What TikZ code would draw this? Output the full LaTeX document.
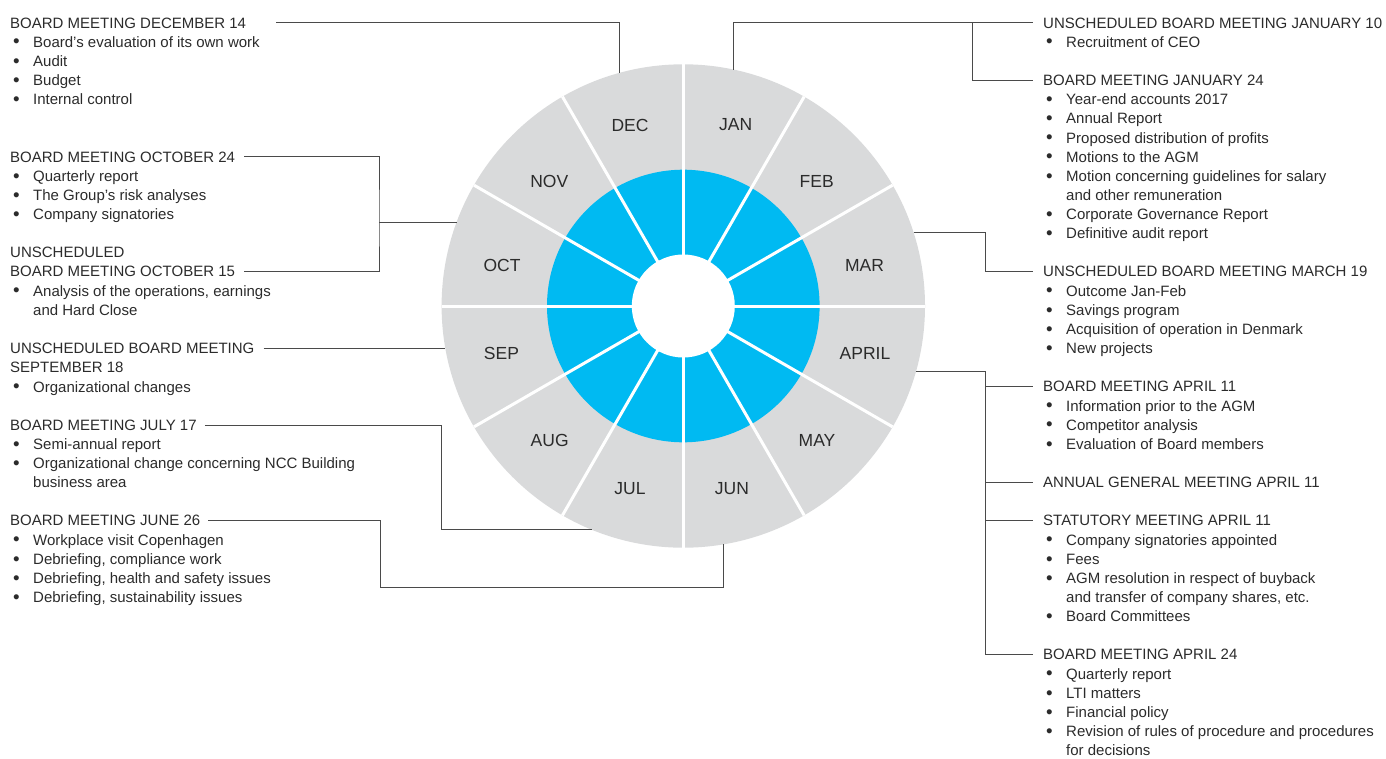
\documentclass[tikz,border=0pt]{standalone}
\usepackage{fontspec}
\usepackage{graphicx}
\setmainfont{Liberation Sans}
\usetikzlibrary{positioning,calc}
\definecolor{ringgray}{HTML}{D9DADB}
\definecolor{ringblue}{HTML}{00BAF2}
\definecolor{txt}{HTML}{2B2B2B}
\definecolor{linegray}{HTML}{4A4A4A}
\newcommand\bodyfont{\fontsize{15}{19.15}\selectfont}
\newcommand\dotmark{\raisebox{-0.6pt}{\scalebox{1.25}{\textbullet}}}
\newcommand\itm[1]{\strut\makebox[23pt][l]{\hspace{3pt}\dotmark}#1}
\newcommand\cnt[1]{\strut\hspace*{23pt}#1}
\newcommand\pln[1]{\strut#1}
\tikzset{
  head/.style={inner sep=0pt,anchor=base west,font=\bodyfont,text=txt},
  list/.style={inner sep=0pt,align=left,font=\bodyfont,text=txt},
  month/.style={font=\fontsize{17.5}{20}\selectfont,text=txt},
  link/.style={draw=linegray,line width=0.9pt},
  divider/.style={white,line width=3pt}
}
\def\pitch{19.15}

\begin{document}
\begin{tikzpicture}[x=1pt,y=1pt]
\useasboundingbox (0,0) rectangle (1386,-758);
% wheel
\coordinate (c) at (683.3,-306);
\fill[ringgray] (c) circle (241.7);
\fill[ringblue] (c) circle (136.3);
\fill[white] (c) circle (51.5);
\foreach \a in {0,30,...,150}
  \draw[divider] ($(c)+(\a:241.7)$) -- ($(c)+(\a+180:241.7)$);
\foreach \m/\dx/\dy in {JAN/52.4/181,FEB/133.4/124.3,MAR/181.2/41,APRIL/181.7/-47,
    MAY/133.7/-134,JUN/48.7/-183,JUL/-53.3/-183,AUG/-133.6/-134,SEP/-181.8/-47,
    OCT/-181.3/41,NOV/-134/124.3,DEC/-53.3/181}
  \node[month] (m\m) at ($(c)+(\dx,\dy)$) {\m};
% attach points on the rim
\foreach \n/\a in {dec/105.2,jan/78.1,mar/17.6,apr/-15.8,oct/159.7,sep/190,jul/247.9,jun/279.45}
  \coordinate (p\n) at ($(c)+(\a:241.7)$);

% left column
\node[head] (hdec) at (10,-28) {BOARD MEETING DECEMBER 14};
\node[list,below right=5.75pt and 0pt of hdec.base west] (ldec)
  {\itm{Board’s evaluation of its own work}\\\itm{Audit}\\\itm{Budget}\\\itm{Internal control}};
\node[head] (hoct24) at (10,{-28-7*\pitch}) {BOARD MEETING OCTOBER 24};
\node[list,below right=5.75pt and 0pt of hoct24.base west] (loct24)
  {\itm{Quarterly report}\\\itm{The Group’s risk analyses}\\\itm{Company signatories}};
\node[head] (uoct) at (10,{-28-12*\pitch}) {UNSCHEDULED};
\node[head] (hoct15) at (10,{-28-13*\pitch}) {BOARD MEETING OCTOBER 15};
\node[list,below right=5.75pt and 0pt of hoct15.base west] (loct15)
  {\itm{Analysis of the operations, earnings}\\\cnt{and Hard Close}};
\node[head] (hsep) at (10,{-28-17*\pitch}) {UNSCHEDULED BOARD MEETING};
\node[list,below right=5.75pt and 0pt of hsep.base west] (lsep)
  {\pln{SEPTEMBER 18}\\\itm{Organizational changes}};
\node[head] (hjul) at (10,{-28-21*\pitch}) {BOARD MEETING JULY 17};
\node[list,below right=5.75pt and 0pt of hjul.base west] (ljul)
  {\itm{Semi-annual report}\\\itm{Organizational change concerning NCC Building}\\\cnt{business area}};
\node[head] (hjun) at (10,{-28-26*\pitch}) {BOARD MEETING JUNE 26};
\node[list,below right=5.75pt and 0pt of hjun.base west] (ljun)
  {\itm{Workplace visit Copenhagen}\\\itm{Debriefing, compliance work}\\
   \itm{Debriefing, health and safety issues}\\\itm{Debriefing, sustainability issues}};

% right column
\node[head] (hjan10) at (1043,-28) {UNSCHEDULED BOARD MEETING JANUARY 10};
\node[list,below right=5.75pt and 0pt of hjan10.base west] (ljan10) {\itm{Recruitment of CEO}};
\node[head] (hjan24) at (1043,{-28-3*\pitch}) {BOARD MEETING JANUARY 24};
\node[list,below right=5.75pt and 0pt of hjan24.base west] (ljan24)
  {\itm{Year-end accounts 2017}\\\itm{Annual Report}\\\itm{Proposed distribution of profits}\\
   \itm{Motions to the AGM}\\\itm{Motion concerning guidelines for salary}\\\cnt{and other remuneration}\\
   \itm{Corporate Governance Report}\\\itm{Definitive audit report}};
\node[head] (hmar) at (1043,{-28-13*\pitch}) {UNSCHEDULED BOARD MEETING MARCH 19};
\node[list,below right=5.75pt and 0pt of hmar.base west] (lmar)
  {\itm{Outcome Jan-Feb}\\\itm{Savings program}\\\itm{Acquisition of operation in Denmark}\\\itm{New projects}};
\node[head] (hapr11) at (1043,{-28-19*\pitch}) {BOARD MEETING APRIL 11};
\node[list,below right=5.75pt and 0pt of hapr11.base west] (lapr11)
  {\itm{Information prior to the AGM}\\\itm{Competitor analysis}\\\itm{Evaluation of Board members}};
\node[head] (hagm) at (1043,{-28-24*\pitch}) {ANNUAL GENERAL MEETING APRIL 11};
\node[head] (hstat) at (1043,{-28-26*\pitch}) {STATUTORY MEETING APRIL 11};
\node[list,below right=5.75pt and 0pt of hstat.base west] (lstat)
  {\itm{Company signatories appointed}\\\itm{Fees}\\\itm{AGM resolution in respect of buyback}\\
   \cnt{and transfer of company shares, etc.}\\\itm{Board Committees}};
\node[head] (hapr24) at (1043,{-28-33*\pitch}) {BOARD MEETING APRIL 24};
\node[list,below right=5.75pt and 0pt of hapr24.base west] (lapr24)
  {\itm{Quarterly report}\\\itm{LTI matters}\\\itm{Financial policy}\\
   \itm{Revision of rules of procedure and procedures}\\\hspace*{23pt}for decisions};

% connectors
\draw[link] ([xshift=30pt]hdec.east) -| (pdec);
\coordinate (koct) at (poct -| 379,0);
\draw[link] ([xshift=9pt]hoct24.east) -| (koct) |- ([xshift=9pt]hoct15.east);
\draw[link] (koct) -- (poct);
\draw[link] ([xshift=9pt]hsep.east) -- (hsep.east -| psep);
\coordinate (kjul) at (pjul -| 441,0);
\draw[link] ([xshift=8pt]hjul.east) -| (kjul) -- (pjul);
\coordinate (kjun) at (380,-587);
\draw[link] ([xshift=8pt]hjun.east) -| (kjun) -| (pjun);
\draw[link] (pjan) |- ([xshift=-10pt]hjan10.west);
\draw[link] (972,0 |- hjan10.west) |- ([xshift=-10pt]hjan24.west);
\draw[link] (pmar) -- (pmar -| 985,0) |- ([xshift=-10pt]hmar.west);
\coordinate (kapr) at (papr -| 985,0);
\draw[link] (papr) -- (kapr) |- ([xshift=-10pt]hapr24.west);
\foreach \n in {hapr11,hagm,hstat}
  \draw[link] (kapr |- \n.west) -- ([xshift=-10pt]\n.west);
\end{tikzpicture}
\end{document}
